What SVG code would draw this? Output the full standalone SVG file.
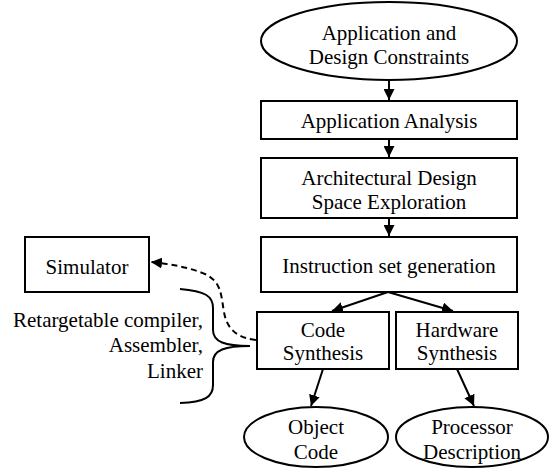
<svg xmlns="http://www.w3.org/2000/svg" width="550" height="469" viewBox="0 0 550 469">
<defs>
<style>
.n{fill:#fff;stroke:#000;stroke-width:2}
.t{font-family:"Liberation Serif","Times New Roman",serif;font-size:21px;fill:#000;text-anchor:middle}
.c{fill:none;stroke:#000;stroke-width:2}
</style>
<marker id="ah" viewBox="0 0 10 10" refX="10" refY="5" markerWidth="5.5" markerHeight="5.5" orient="auto" markerUnits="strokeWidth">
<path d="M0,0 L10,5 L0,10 Z" fill="#000"/>
</marker>
</defs>
<g id="connectors">
<line class="c" x1="389" y1="80" x2="389" y2="100" marker-end="url(#ah)"/>
<line class="c" x1="389" y1="139" x2="389" y2="157" marker-end="url(#ah)"/>
<line class="c" x1="389" y1="218" x2="389" y2="236" marker-end="url(#ah)"/>
<line class="c" x1="388" y1="292" x2="332" y2="311" marker-end="url(#ah)"/>
<line class="c" x1="388" y1="292" x2="453" y2="311" marker-end="url(#ah)"/>
<line class="c" x1="323" y1="369" x2="311" y2="406" marker-end="url(#ah)"/>
<line class="c" x1="457" y1="369" x2="474" y2="406" marker-end="url(#ah)"/>
<path class="c" d="M256,340 C238,338 227,330 224,312 C221,296 222,282 205,274 C188,267 170,264 151,262" stroke-dasharray="6,4" marker-end="url(#ah)"/>
<path class="c" d="M180,289 C205,291 213,296 213,308 L213,330 C213,342 225,346 250,346 C225,346 213,350 213,362 L213,385 C213,397 205,402 180,403"/>
</g>
<g id="constraints">
<ellipse class="n" cx="389" cy="41" rx="128" ry="39"/>
<text class="t" x="389" y="40">Application and</text>
<text class="t" x="389" y="64">Design Constraints</text>
</g>
<g id="analysis">
<rect class="n" x="261" y="101" width="256" height="38"/>
<text class="t" x="389" y="128">Application Analysis</text>
</g>
<g id="exploration">
<rect class="n" x="261" y="158" width="256" height="60"/>
<text class="t" x="389" y="185">Architectural Design</text>
<text class="t" x="389" y="209">Space Exploration</text>
</g>
<g id="isg">
<rect class="n" x="261" y="237" width="256" height="55"/>
<text class="t" x="389" y="273">Instruction set generation</text>
</g>
<g id="simulator">
<rect class="n" x="25" y="237" width="124" height="55"/>
<text class="t" x="87" y="274">Simulator</text>
</g>
<g id="codesyn">
<rect class="n" x="257" y="312" width="132" height="57"/>
<text class="t" x="323" y="337">Code</text>
<text class="t" x="323" y="360">Synthesis</text>
</g>
<g id="hwsyn">
<rect class="n" x="396" y="312" width="122" height="57"/>
<text class="t" x="457" y="337">Hardware</text>
<text class="t" x="457" y="360">Synthesis</text>
</g>
<g id="objcode">
<ellipse class="n" cx="316" cy="437" rx="72" ry="30"/>
<text class="t" x="316" y="434">Object</text>
<text class="t" x="316" y="459">Code</text>
</g>
<g id="procdesc">
<ellipse class="n" cx="472" cy="437" rx="76" ry="30"/>
<text class="t" x="472" y="434">Processor</text>
<text class="t" x="472" y="459">Description</text>
</g>
<g id="toolslabel">
<text class="t" x="203" y="327" style="text-anchor:end">Retargetable compiler,</text>
<text class="t" x="203" y="352" style="text-anchor:end">Assembler,</text>
<text class="t" x="203" y="378" style="text-anchor:end">Linker</text>
</g>
</svg>
